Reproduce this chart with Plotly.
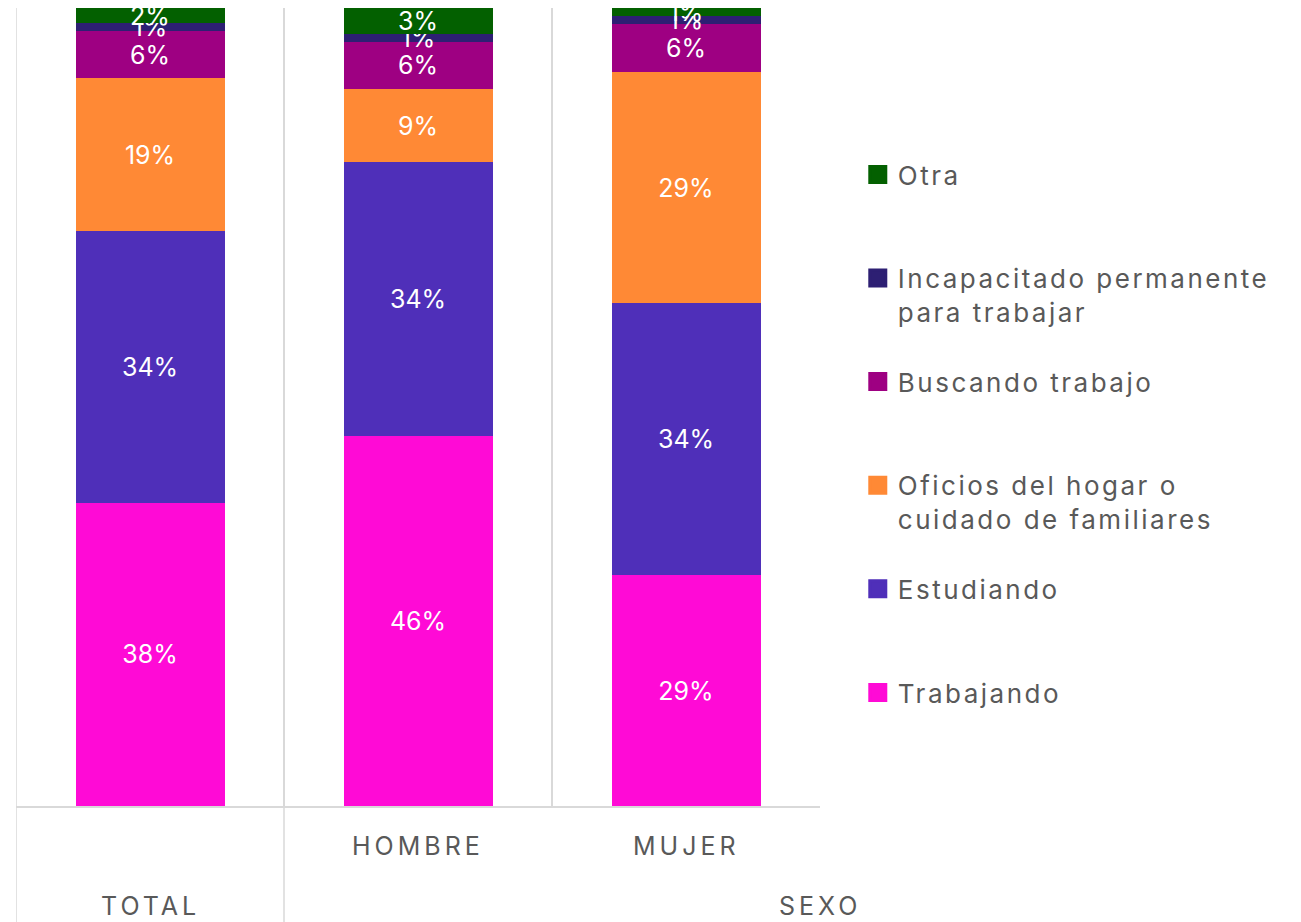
import plotly.graph_objects as go

# Categories along the x axis
categories = ["TOTAL", "HOMBRE", "MUJER"]

# Share of people (%) by main activity, bottom to top of each stack
trabajando = [38.0, 46.4, 28.9]
estudiando = [34.0, 34.3, 34.1]
oficios = [19.2, 9.1, 29.0]
buscando = [5.9, 6.0, 6.0]
incapacitado = [1.0, 1.0, 1.0]
otra = [1.9, 3.2, 1.0]

series_names = [
    "Trabajando",
    "Estudiando",
    "Oficios del hogar o<br>cuidado de familiares",
    "Buscando trabajo",
    "Incapacitado permanente<br>para trabajar",
    "Otra",
]
series_values = [trabajando, estudiando, oficios, buscando, incapacitado, otra]
series_colors = ["#FF0AD6", "#4F2FB9", "#FF8935", "#9E0082", "#2D1F73", "#036000"]

FONT = "Inter"
GREY = "#595959"
LINE = "#D9D9D9"

fig = go.Figure()

for name, vals, color in zip(series_names, series_values, series_colors):
    fig.add_trace(go.Bar(
        x=categories,
        y=vals,
        name=name,
        marker=dict(color=color, line=dict(width=0)),
        texttemplate="%{y:.0f}%",
        textposition="inside",
        insidetextanchor="middle",
        textfont=dict(family=FONT, size=25, color="white"),
        showlegend=False,
        hoverinfo="skip",
    ))

# Legend entries (top to bottom: Otra ... Trabajando) with larger square swatches
for name, color in zip(reversed(series_names), reversed(series_colors)):
    label = name if "<br>" in name else name + "<br> "
    fig.add_trace(go.Scatter(
        x=[None], y=[None],
        mode="markers",
        name=label,
        legendgroup=name,
        marker=dict(symbol="square", size=16, color=color,
                    line=dict(width=3, color=color)),
        showlegend=True,
    ))

# Left frame line and the divider between TOTAL and the SEXO group
fig.add_shape(type="line", xref="x", yref="paper",
              x0=-0.5, x1=-0.5, y0=1, y1=-0.16,
              line=dict(color=LINE, width=1.5))
fig.add_shape(type="line", xref="x", yref="paper",
              x0=0.5, x1=0.5, y0=0, y1=-0.16,
              line=dict(color=LINE, width=1.5))

label_font = dict(family=FONT, size=25, color=GREY)
fig.add_annotation(x="HOMBRE", y=-0.05, xref="x", yref="paper", text="HOMBRE",
                   showarrow=False, font=label_font, yanchor="middle")
fig.add_annotation(x="MUJER", y=-0.05, xref="x", yref="paper", text="MUJER",
                   showarrow=False, font=label_font, yanchor="middle")
fig.add_annotation(x="TOTAL", y=-0.125, xref="x", yref="paper", text="TOTAL",
                   showarrow=False, font=label_font, yanchor="middle")
fig.add_annotation(x=2.5, y=-0.125, xref="x", yref="paper", text="SEXO",
                   showarrow=False, font=label_font, yanchor="middle")

fig.update_layout(
    barmode="stack",
    bargap=0.444,
    width=1301,
    height=922,
    margin=dict(l=16, r=481, t=8, b=116),
    paper_bgcolor="white",
    plot_bgcolor="white",
    font=dict(family=FONT, color=GREY),
    uniformtext=dict(minsize=25, mode="show"),
    legend=dict(
        x=1.047, xanchor="left",
        y=0.8208, yanchor="top",
        font=dict(family=FONT, size=26, color=GREY),
        traceorder="grouped",
        tracegroupgap=33,
        valign="top",
        bgcolor="rgba(0,0,0,0)",
    ),
    xaxis=dict(
        type="category",
        range=[-0.5, 2.5],
        tickson="boundaries",
        showgrid=True,
        gridcolor=LINE,
        gridwidth=1.5,
        showline=True,
        linecolor=LINE,
        linewidth=1.5,
        showticklabels=False,
        ticks="",
        fixedrange=True,
    ),
    yaxis=dict(
        range=[0, 100],
        showgrid=False,
        zeroline=False,
        showticklabels=False,
        showline=False,
        ticks="",
    ),
)

# Wider tracking for legend and category labels; the legend box is measured
# before tracking is applied, so its clip region is dropped to keep full lines.
tracking_js = """
var gd = document.getElementById('{plot_id}');
function applyTracking() {
  gd.querySelectorAll('.legendtext').forEach(function (t) {
    t.style.letterSpacing = '2.5px';
  });
  gd.querySelectorAll('.annotation-text').forEach(function (t) {
    t.style.letterSpacing = '4px';
  });
  gd.querySelectorAll('.legend .scrollbox, .legend [clip-path]').forEach(function (el) {
    el.removeAttribute('clip-path');
  });
}
applyTracking();
gd.on('plotly_afterplot', applyTracking);
"""

fig.write_html("out.html", post_script=tracking_js)
